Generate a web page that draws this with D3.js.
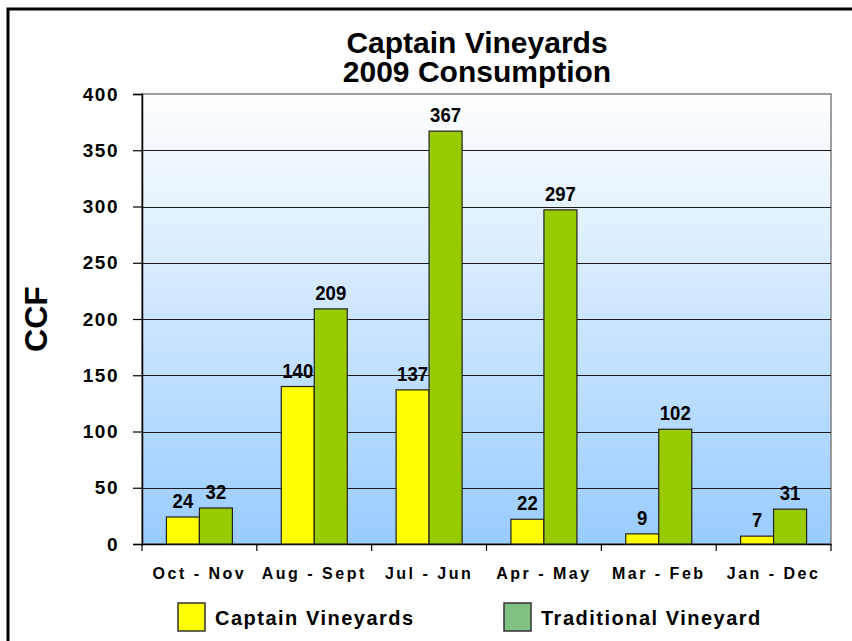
<!DOCTYPE html>
<html lang="en">
<head>
<meta charset="UTF-8">
<title>Captain Vineyards 2009 Consumption</title>
<script src="https://d3js.org/d3.v7.min.js"></script>
<style>
    body { margin: 0; padding: 0; background: #fff; }
    svg { display: block; font-family: "Liberation Sans", Arial, sans-serif; font-weight: bold; }
</style>
</head>
<body>
<div id="chart"></div>
<script>
const categories = ['Oct - Nov', 'Aug - Sept', 'Jul - Jun', 'Apr - May', 'Mar - Feb', 'Jan - Dec'];
const seriesNames = ['Captain Vineyards', 'Traditional Vineyard'];
const captainValues = [24, 140, 137, 22, 9, 7];
const traditionalValues = [32, 209, 367, 297, 102, 31];
const yTicks = [0, 50, 100, 150, 200, 250, 300, 350, 400];

const W = 852, H = 641;
const m = { left: 142, right: 21, top: 94, bottom: 97 };
const iw = W - m.left - m.right, ih = H - m.top - m.bottom;

const svg = d3.select('#chart').append('svg').attr('width', W).attr('height', H);

// gradient for plot area
const defs = svg.append('defs');
const grad = defs.append('linearGradient').attr('id', 'bg').attr('x1', 0).attr('y1', 0).attr('x2', 0).attr('y2', 1);
grad.append('stop').attr('offset', '0%').attr('stop-color', '#ffffff');
grad.append('stop').attr('offset', '100%').attr('stop-color', '#99ccff');

// outer frame
svg.append('rect').attr('x', 8).attr('y', 9).attr('width', 900).attr('height', 700)
    .attr('fill', 'none').attr('stroke', '#000').attr('stroke-width', 3);

const x0 = d3.scaleBand().domain(categories).range([0, iw]);
const x1 = d3.scaleBand().domain(seriesNames).range([0, x0.bandwidth()]).paddingOuter(0.74).paddingInner(0);
const y = d3.scaleLinear().domain([0, 400]).range([ih, 0]);
const color = d3.scaleOrdinal().domain(seriesNames).range(['#ffff00', '#99cc00']);
const legendColor = d3.scaleOrdinal().domain(seriesNames).range(['#ffff00', '#80c080']);

const g = svg.append('g').attr('transform', `translate(${m.left},${m.top})`);

g.append('rect').attr('width', iw).attr('height', ih).attr('fill', 'url(#bg)')
    .attr('stroke', '#808080').attr('stroke-width', 1.5);

// gridlines
g.append('g').selectAll('line').data(yTicks.filter(d => d > 0 && d < 400)).join('line')
    .attr('x1', 0).attr('x2', iw)
    .attr('y1', d => Math.round(y(d)) + 0.5).attr('y2', d => Math.round(y(d)) + 0.5)
    .attr('stroke', '#1a1a1a').attr('stroke-width', 1);

// y axis
const yAxis = g.append('g').call(d3.axisLeft(y).tickValues(yTicks).tickSize(9).tickPadding(14));
yAxis.select('.domain').attr('stroke', '#000').attr('stroke-width', 1.5);
yAxis.selectAll('.tick line').attr('stroke', '#000').attr('stroke-width', 1.2);
yAxis.selectAll('text').attr('font-size', 19).attr('font-weight', 'bold').attr('fill', '#000')
    .attr('font-family', '"Liberation Sans", Arial, sans-serif').style('letter-spacing', '1.5px');

// x axis
const xAxis = g.append('g').attr('transform', `translate(0,${ih})`)
    .call(d3.axisBottom(x0).tickSize(0).tickPadding(24));
xAxis.select('.domain').attr('stroke', '#000').attr('stroke-width', 1.5);
xAxis.selectAll('text').attr('font-size', 16).attr('font-weight', 'bold').attr('fill', '#000')
    .attr('font-family', '"Liberation Sans", Arial, sans-serif').style('letter-spacing', '2.5px');
// category separator ticks
g.append('g').selectAll('line').data(d3.range(categories.length + 1)).join('line')
    .attr('x1', i => i * x0.step()).attr('x2', i => i * x0.step())
    .attr('y1', ih).attr('y2', ih + 7).attr('stroke', '#000').attr('stroke-width', 1.2);

// bars
const rows = categories.map((c, i) => ({ cat: c, vals: [
    { name: seriesNames[0], v: captainValues[i] },
    { name: seriesNames[1], v: traditionalValues[i] }] }));

const groups = g.append('g').selectAll('g').data(rows).join('g')
    .attr('transform', d => `translate(${x0(d.cat)},0)`);

groups.selectAll('rect').data(d => d.vals).join('rect')
    .attr('x', d => x1(d.name)).attr('width', x1.bandwidth())
    .attr('y', d => y(d.v)).attr('height', d => ih - y(d.v))
    .attr('fill', d => color(d.name)).attr('stroke', '#222').attr('stroke-width', 1.2);

groups.selectAll('text').data(d => d.vals).join('text')
    .attr('x', d => x1(d.name) + x1.bandwidth() / 2)
    .attr('y', d => y(d.v) - 9)
    .attr('text-anchor', 'middle').attr('font-size', 21).attr('fill', '#000')
    .attr('textLength', d => String(d.v).length * 10.3).attr('lengthAdjust', 'spacingAndGlyphs')
    .text(d => d.v);

// title
const tx = 477;
const title = svg.append('text').attr('x', tx).attr('text-anchor', 'middle')
    .attr('font-size', 30).attr('fill', '#000');
title.append('tspan').attr('x', tx).attr('y', 53).text('Captain Vineyards');
title.append('tspan').attr('x', tx).attr('y', 82).text('2009 Consumption');

// y label
svg.append('text').attr('transform', `translate(47,${m.top + ih / 2}) rotate(-90)`)
    .attr('text-anchor', 'middle').attr('font-size', 32).attr('fill', '#000').text('CCF');

// legend
const legendX = [178, 504];
const legend = svg.append('g').selectAll('g').data(seriesNames).join('g')
    .attr('transform', (d, i) => `translate(${legendX[i]},603)`);
legend.append('rect').attr('width', 27).attr('height', 28)
    .attr('fill', d => legendColor(d)).attr('stroke', '#333').attr('stroke-width', 1.5);
legend.append('text').attr('x', 37).attr('y', 22).attr('font-size', 20).attr('fill', '#000')
    .style('letter-spacing', '1.5px').text(d => d);
</script>
</body>
</html>
